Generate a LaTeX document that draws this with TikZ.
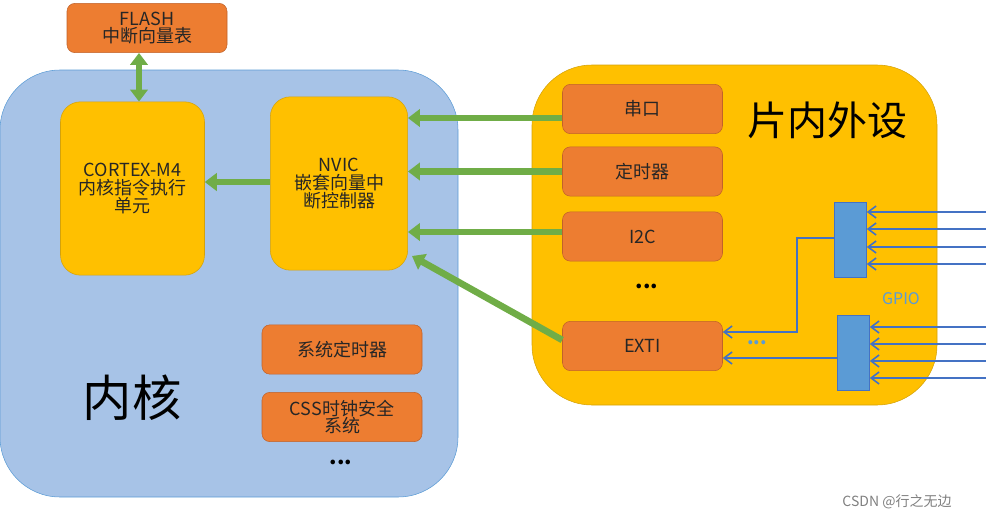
\documentclass[tikz,border=0pt]{standalone}
\usepackage{fontspec}
\setmainfont{Noto Sans CJK SC}
\usetikzlibrary{arrows.meta}
\definecolor{orng}{HTML}{ED7D31}
\definecolor{orngd}{HTML}{C0622A}
\definecolor{gold}{HTML}{FFC000}
\definecolor{goldd}{HTML}{D4A20A}
\definecolor{skyb}{HTML}{A7C3E7}
\definecolor{blued}{HTML}{5B9BD5}
\definecolor{gpiob}{HTML}{5B9BD5}
\definecolor{lineb}{HTML}{4472C4}
\definecolor{grn}{HTML}{70AD47}
\tikzset{
  obox/.style={draw=orngd, fill=orng, rounded corners=6pt, minimum width=120pt, minimum height=37pt, align=center, font=\fontsize{13.5}{16}\selectfont, text=black!85, inner sep=1pt},
  ybox/.style={draw=goldd, fill=gold, rounded corners=15pt, align=center, font=\fontsize{13.5}{16.5}\selectfont, text=black!85},
  gbox/.style={draw=lineb, fill=gpiob, minimum width=24pt, inner sep=0pt},
  garrow/.style={draw=grn, line width=5pt, -{Triangle[length=9pt, width=13pt]}},
  barrow/.style={draw=lineb, line width=1.2pt, -{Straight Barb[length=6pt, width=9pt]}}
}
\begin{document}
\begin{tikzpicture}[x=0.75pt, y=-0.75pt]
    \useasboundingbox (0,0) rectangle (986,521);
    % big areas
    \draw[draw=blued, fill=skyb, rounded corners=45pt] (0,70) rectangle (458,497);
    \draw[draw=goldd, fill=gold, rounded corners=45pt] (532,65) rectangle (937,405);
    \node[font=\fontsize{37}{40}\selectfont] (core) at (132,398) {内核};
    \node[font=\fontsize{30}{33}\selectfont] (periph) at (827,120) {片内外设};
    % core blocks
    \node[obox, minimum width=120pt, minimum height=37pt] (flash) at (147,28) {FLASH\\[-3pt]中断向量表};
    \node[ybox, minimum width=108pt, minimum height=130pt] (cpu) at (132.5,188.5) {CORTEX-M4\\[-3pt]内核指令执行\\[-3pt]单元};
    \node[ybox, minimum width=103pt, minimum height=130pt] (nvic) at (339,183.5) {NVIC\\[-3pt]嵌套向量中\\[-3pt]断控制器};
    \node[obox] (systick) at (342,349.5) {系统定时器};
    \node[obox] (css) at (342,417) {CSS时钟安全\\[-3pt]系统};
    \node[font=\bfseries\fontsize{16}{16}\selectfont] (cdots) at (341,462) {...};
    % peripherals
    \node[obox] (uart) at (642.5,109) {串口};
    \node[obox] (timer) at (642.5,171.5) {定时器};
    \node[obox] (iic) at (642.5,236.5) {I2C};
    \node[font=\bfseries\fontsize{16}{16}\selectfont] (pdots) at (647,286) {...};
    \node[obox] (exti) at (642.5,346) {EXTI};
    % gpio
    \node[gbox, minimum height=56pt] (gpa) at (850.5,240) {};
    \node[gbox, minimum height=56pt] (gpb) at (853.5,352.5) {};
    \node[text=blued, font=\fontsize{12}{14}\selectfont] (gpio) at (901,299) {GPIO};
    \node[text=blued, font=\bfseries\fontsize{14}{14}\selectfont] (edots) at (757,343) {...};
    \foreach \yy [count=\i] in {212,229,247,264} {
        \coordinate (ina\i) at (986,\yy);
        \draw[barrow] (ina\i) -- (ina\i -| gpa.east);
    }
    \foreach \yy [count=\i] in {327,344,361,378} {
        \coordinate (inb\i) at (986,\yy);
        \draw[barrow] (inb\i) -- (inb\i -| gpb.east);
    }
    \coordinate (bend) at (797,238);
    \draw[barrow] (gpa.west |- bend) -- (bend) |- (exti.east |- 0,332);
    \draw[barrow] (gpb.west |- 0,358) -- (exti.east |- 0,358);
    % green arrows
    \draw[garrow, {Triangle[length=9pt, width=13pt]}-{Triangle[length=9pt, width=13pt]}] (cpu.north -| 139,0) -- (flash.south -| 139,0);
    \draw[garrow] (nvic.west |- 0,182) -- (cpu.east |- 0,182);
    \draw[garrow] (uart.west |- 0,118) -- (nvic.east |- 0,118);
    \draw[garrow] (timer.west) -- (nvic.east |- timer.west);
    \draw[garrow] (iic.west |- 0,232) -- (nvic.east |- 0,232);
    \draw[garrow] (exti.west |- 0,340) -- (412,256);
    \node[text=gray, font=\fontsize{10.5}{12}\selectfont] (mark) at (897,502) {CSDN @行之无边};
\end{tikzpicture}
\end{document}
